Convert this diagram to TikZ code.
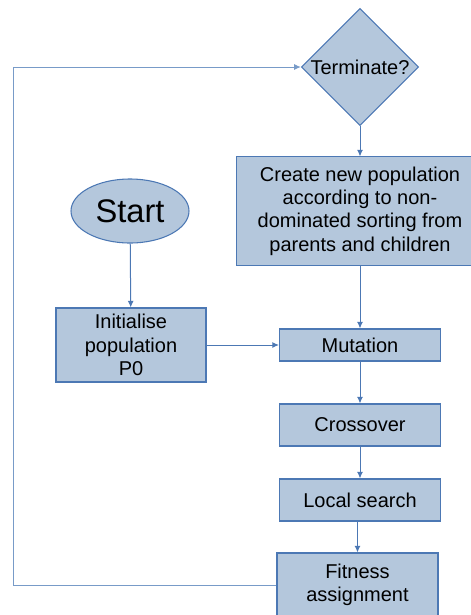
\documentclass[tikz,border=0pt]{standalone}
\usepackage{fontspec}
\setmainfont{Liberation Sans}
\usepackage{xcolor}
\usetikzlibrary{
    arrows.meta,
    shapes.geometric,
    calc
}
\definecolor{boxfill}{RGB}{180,199,220}
\definecolor{boxline}{RGB}{76,120,180}
\definecolor{loopline}{RGB}{120,155,200}

\begin{document}
\begin{tikzpicture}[x=0.75pt, y=-0.75pt,
    block/.style={draw=boxline, fill=boxfill, line width=0.8pt, align=center,
        inner sep=0pt, font=\fontsize{15}{17.5}\selectfont},
    decision/.style={block, diamond, aspect=1, minimum width=88pt, minimum height=88pt},
    startnode/.style={block, ellipse, minimum width=88.5pt, minimum height=48pt,
        font=\fontsize{24.5}{29}\selectfont},
    arr/.style={draw=boxline, line width=0.75pt, -{Latex[length=5pt,width=4.5pt]}}
]
    \useasboundingbox (0, 0) rectangle (471, 615);
    \clip (0, 0) rectangle (471, 615);

    \node[decision] (term) at (360, 67) {Terminate?};
    % box runs off the right edge, so no right side is drawn
    \node[block, draw=none, minimum width=184.5pt, minimum height=81pt] (create) at (360, 211)
        {Create new population\\according to non-\\dominated sorting from\\parents and children};
    \draw[boxline, line width=0.8pt] (create.north east) -- (create.north west)
        -- (create.south west) -- (create.south east);
    \node[startnode] (start) at (130, 211) {Start};
    \node[block, minimum width=112.5pt, minimum height=55.5pt] (init) at (131, 345)
        {Initialise\\population\\P0};
    \node[block, minimum width=120.75pt, minimum height=24pt] (mut) at (360, 345) {Mutation};
    \node[block, minimum width=120.75pt, minimum height=31.5pt] (cross) at (360, 425) {Crossover};
    \node[block, minimum width=120.75pt, minimum height=31.5pt] (local) at (360, 500) {Local search};
    \node[block, minimum width=120.75pt, minimum height=48pt] (fit) at (357.5, 585)
        {Fitness\\assignment};
    \coordinate (back) at (13, 0);

    \draw[arr] (term) -- (create);
    \draw[arr] (create) -- (mut);
    \draw[arr] (start) -- (init);
    \draw[arr] (init) -- (mut);
    \draw[arr] (mut) -- (cross);
    \draw[arr] (cross) -- (local);
    \draw[arr] (local.south -| fit) -- (fit);
    \draw[arr, draw=loopline] (fit.west) -- (fit.west -| back) -- (term.west -| back) -- (term.west);
\end{tikzpicture}
\end{document}
